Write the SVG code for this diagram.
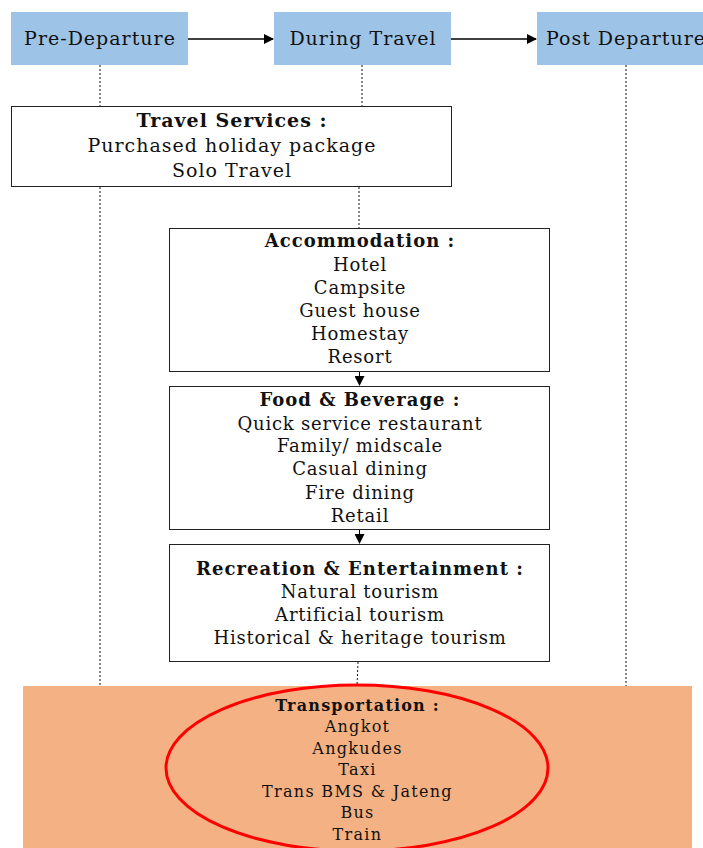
<svg xmlns="http://www.w3.org/2000/svg" width="703" height="848" viewBox="0 0 703 848">
<defs>
<style>
.hdr{fill:#9DC3E6;}
.box{fill:#fff;stroke:#222;stroke-width:1;}
.t{font-family:"DejaVu Serif","Liberation Serif",serif;font-size:18px;letter-spacing:0.8px;fill:#111;text-anchor:middle;}
.h{font-family:"DejaVu Serif","Liberation Serif",serif;font-size:19px;letter-spacing:1px;fill:#111;text-anchor:middle;}
.b{font-weight:bold;letter-spacing:1px;}
.s{font-size:16px;letter-spacing:1.3px;}
.dot{stroke:#111;stroke-width:1;stroke-dasharray:2 2;fill:none;}
.arr{stroke:#000;stroke-width:1.5;fill:none;}
</style>
<marker id="ah" markerWidth="10" markerHeight="10" refX="9" refY="5" orient="auto" markerUnits="userSpaceOnUse">
<path d="M0,0 L10,5 L0,10 z" fill="#000"/>
</marker>
<marker id="ah2" markerWidth="10" markerHeight="10" refX="9" refY="5" orient="auto" markerUnits="userSpaceOnUse">
<path d="M0,0 L10,5 L0,10 z" fill="#000"/>
</marker>
</defs>
<rect width="703" height="848" fill="#fff"/>
<g id="connectors">
<line class="arr" x1="188" y1="39" x2="273" y2="39" marker-end="url(#ah)"/>
<line class="arr" x1="451" y1="39" x2="536" y2="39" marker-end="url(#ah)"/>
<line class="dot" x1="100" y1="65" x2="100" y2="106"/>
<line class="dot" x1="362" y1="65" x2="362" y2="106"/>
<line class="dot" x1="100" y1="187" x2="100" y2="686"/>
<line class="dot" x1="359" y1="187" x2="359" y2="228"/>
<line class="dot" x1="626" y1="65" x2="626" y2="686"/>
<line class="dot" x1="358" y1="662" x2="357" y2="686"/>
<line stroke="#000" stroke-width="1" x1="359.5" y1="372" x2="359.5" y2="385" marker-end="url(#ah2)"/>
<line stroke="#000" stroke-width="1" x1="359.5" y1="530" x2="359.5" y2="543" marker-end="url(#ah2)"/>
</g>
<g id="pre-departure">
<rect class="hdr" x="11" y="12" width="177" height="53"/>
<text class="h" x="100" y="45">Pre-Departure</text>
</g>
<g id="during-travel">
<rect class="hdr" x="274" y="12" width="177" height="53"/>
<text class="h" x="363" y="45">During Travel</text>
</g>
<g id="post-departure">
<rect class="hdr" x="537" y="12" width="177" height="53"/>
<text class="h" x="626" y="45">Post Departure</text>
</g>
<g id="travel-services">
<rect class="box" x="11.5" y="106.5" width="440" height="80"/>
<text class="h b" x="232" y="127">Travel Services :</text>
<text class="h" x="232" y="152">Purchased holiday package</text>
<text class="h" x="232" y="177">Solo Travel</text>
</g>
<g id="accommodation">
<rect class="box" x="169.5" y="228.5" width="380" height="143"/>
<text class="t b" x="360" y="247">Accommodation :</text>
<text class="t" x="360" y="271">Hotel</text>
<text class="t" x="360" y="294">Campsite</text>
<text class="t" x="360" y="317">Guest house</text>
<text class="t" x="360" y="340">Homestay</text>
<text class="t" x="360" y="363">Resort</text>
</g>
<g id="food-beverage">
<rect class="box" x="169.5" y="386.5" width="380" height="143"/>
<text class="t b" x="360" y="406">Food &amp; Beverage :</text>
<text class="t" x="360" y="430">Quick service restaurant</text>
<text class="t" x="360" y="452">Family/ midscale</text>
<text class="t" x="360" y="475">Casual dining</text>
<text class="t" x="360" y="499">Fire dining</text>
<text class="t" x="360" y="522">Retail</text>
</g>
<g id="recreation">
<rect class="box" x="169.5" y="544.5" width="380" height="117"/>
<text class="t b" x="360" y="575">Recreation &amp; Entertainment :</text>
<text class="t" x="360" y="598">Natural tourism</text>
<text class="t" x="360" y="621">Artificial tourism</text>
<text class="t" x="360" y="644">Historical &amp; heritage tourism</text>
</g>
<g id="transportation">
<rect x="23" y="686" width="669" height="162" fill="#F4B183"/>
<ellipse cx="357" cy="768" rx="191" ry="83" fill="none" stroke="#FF0000" stroke-width="3"/>
<text class="t s b" x="357.5" y="711" style="letter-spacing:1.2px">Transportation :</text>
<text class="t s" x="357.5" y="732">Angkot</text>
<text class="t s" x="357.5" y="754">Angkudes</text>
<text class="t s" x="357.5" y="775">Taxi</text>
<text class="t s" x="357.5" y="797">Trans BMS &amp; Jateng</text>
<text class="t s" x="357.5" y="818">Bus</text>
<text class="t s" x="357.5" y="840">Train</text>
</g>
</svg>
